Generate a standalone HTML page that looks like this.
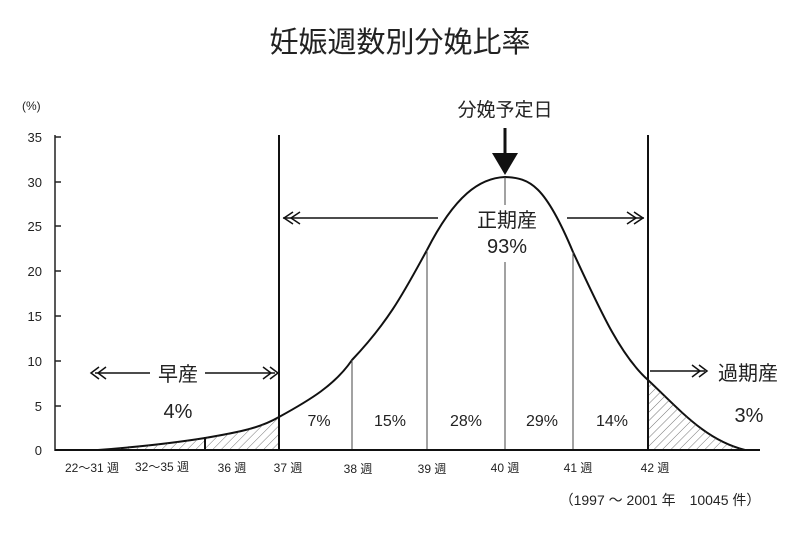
<!DOCTYPE html>
<html><head><meta charset="utf-8"><style>
html,body{margin:0;padding:0;background:#fff;}
svg{display:block;}
text{font-family:"Liberation Sans","Noto Sans CJK JP",sans-serif;fill:#222;}
</style></head><body>
<svg width="800" height="557" viewBox="0 0 800 557" xmlns="http://www.w3.org/2000/svg">
<defs>
<pattern id="h" width="6" height="6" patternUnits="userSpaceOnUse" patternTransform="rotate(45)">
<line x1="0" y1="0" x2="0" y2="6" stroke="#555" stroke-width="0.8"/>
</pattern>
<clipPath id="lc"><rect x="0" y="0" width="279" height="451"/></clipPath>
<clipPath id="rc"><rect x="648" y="0" width="152" height="451"/></clipPath>
</defs>
<text x="400" y="52" font-size="29" text-anchor="middle">妊娠週数別分娩比率</text>
<text x="22" y="110" font-size="12">(%)</text>
<g font-size="13" text-anchor="end">
<text x="42" y="142">35</text><text x="42" y="187">30</text><text x="42" y="231">25</text>
<text x="42" y="276">20</text><text x="42" y="321">15</text><text x="42" y="366">10</text>
<text x="42" y="411">5</text><text x="42" y="455">0</text>
</g>
<g stroke="#222" stroke-width="1.5">
<line x1="55" y1="135" x2="55" y2="451"/>
<line x1="55" y1="137" x2="61" y2="137"/><line x1="55" y1="182" x2="61" y2="182"/>
<line x1="55" y1="226" x2="61" y2="226"/><line x1="55" y1="271" x2="61" y2="271"/>
<line x1="55" y1="316" x2="61" y2="316"/><line x1="55" y1="361" x2="61" y2="361"/>
<line x1="55" y1="406" x2="61" y2="406"/>
</g>
<path id="c" d="M98,450 C150,446 180,442 205,438 C240,432 260,428 279,417 C310,400 335,385 352,360 C390,320 405,290 427,250 C455,195 480,178 505,177 C530,178 545,185 573,252 C600,310 620,355 648,380 C680,410 705,440 745,450" fill="none" stroke="#111" stroke-width="2"/>
<path d="M98,450 C150,446 180,442 205,438 C240,432 260,428 279,417 L279,450 Z" fill="url(#h)" clip-path="url(#lc)"/>
<path d="M648,380 C680,410 705,440 745,450 L648,450 Z" fill="url(#h)" clip-path="url(#rc)"/>
<g stroke="#444" stroke-width="1">
<line x1="352" y1="360" x2="352" y2="450"/>
<line x1="427" y1="250" x2="427" y2="450"/>
<line x1="505" y1="177" x2="505" y2="205"/>
<line x1="505" y1="262" x2="505" y2="450"/>
<line x1="573" y1="252" x2="573" y2="450"/>
</g>
<line x1="205" y1="437" x2="205" y2="450" stroke="#111" stroke-width="2"/>
<g stroke="#111" stroke-width="2">
<line x1="279" y1="135" x2="279" y2="451"/>
<line x1="648" y1="135" x2="648" y2="451"/>
<line x1="55" y1="450" x2="760" y2="450"/>
</g>
<g stroke="#111" stroke-width="1.5" fill="none">
<line x1="283" y1="218" x2="438" y2="218"/>
<line x1="567" y1="218" x2="644" y2="218"/>
<polyline points="293,212 284,218 293,224"/><polyline points="300,212 291,218 300,224"/>
<polyline points="634,212 643,218 634,224"/><polyline points="627,212 636,218 627,224"/>
<line x1="95" y1="373" x2="150" y2="373"/><line x1="205" y1="373" x2="275" y2="373"/>
<polyline points="99,367 91,373 99,379"/><polyline points="106,367 98,373 106,379"/>
<polyline points="270,367 278,373 270,379"/><polyline points="263,367 271,373 263,379"/>
<line x1="650" y1="371" x2="705" y2="371"/>
<polyline points="699,365 707,371 699,377"/><polyline points="692,365 700,371 692,377"/>
</g>
<line x1="505" y1="128" x2="505" y2="158" stroke="#111" stroke-width="3"/>
<polygon points="492,153 518,153 505,175" fill="#111"/>
<text x="505" y="116" font-size="19" text-anchor="middle">分娩予定日</text>
<text x="507" y="227" font-size="20" text-anchor="middle">正期産</text>
<text x="507" y="253" font-size="20" text-anchor="middle">93%</text>
<text x="178" y="381" font-size="20" text-anchor="middle">早産</text>
<text x="178" y="418" font-size="20" text-anchor="middle">4%</text>
<text x="748" y="380" font-size="20" text-anchor="middle">過期産</text>
<text x="749" y="422" font-size="20" text-anchor="middle">3%</text>
<g font-size="16" text-anchor="middle" fill="#444">
<text x="319" y="426">7%</text><text x="390" y="426">15%</text><text x="466" y="426">28%</text>
<text x="542" y="426">29%</text><text x="612" y="426">14%</text>
</g>
<g font-size="12" text-anchor="middle">
<text x="92" y="472">22～31 週</text><text x="162" y="471">32～35 週</text>
<text x="232" y="472">36 週</text><text x="288" y="472">37 週</text>
<text x="358" y="473">38 週</text><text x="432" y="473">39 週</text>
<text x="505" y="472">40 週</text><text x="578" y="472">41 週</text>
<text x="655" y="472">42 週</text>
</g>
<text x="660" y="505" font-size="14" text-anchor="middle">（1997 ～ 2001 年　10045 件）</text>
</svg>
</body></html>
